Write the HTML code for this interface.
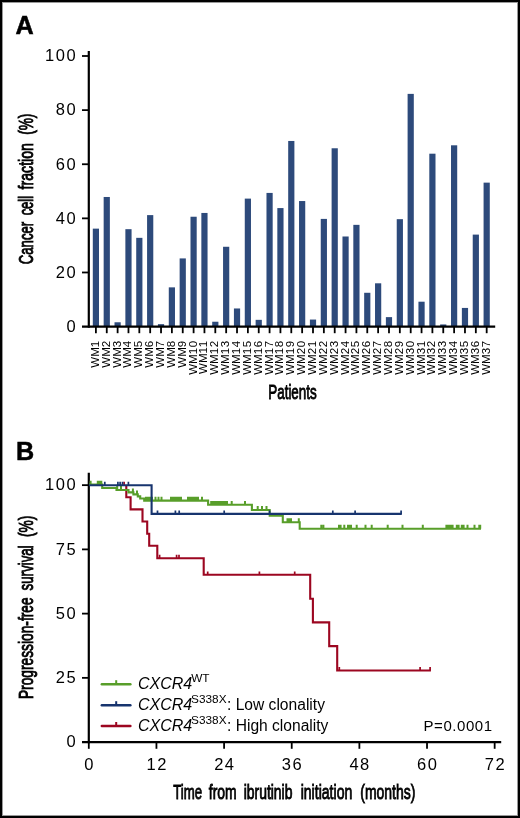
<!DOCTYPE html><html><head><meta charset="utf-8"><style>
html,body{margin:0;padding:0;background:#fff;}
body{width:520px;height:818px;overflow:hidden;position:relative;}
.frame{position:absolute;left:0;top:0;width:516px;height:814px;border:2px solid #000;box-shadow:inset 0 0 0 1px rgba(0,0,0,0.4);}
svg{position:absolute;left:0;top:0;will-change:transform;}
text{font-family:"Liberation Sans",sans-serif;fill:#000;}
</style></head><body><div class="frame"></div>
<svg width="520" height="818" viewBox="0 0 520 818">
<text x="15.6" y="33.5" font-size="25.2" font-weight="bold" stroke="#000" stroke-width="0.5">A</text>
<text x="15.9" y="459.7" font-size="25.2" font-weight="bold" stroke="#000" stroke-width="0.5">B</text>
<rect x="92.80" y="228.64" width="6.2" height="97.96" fill="#2d4a7b"/>
<rect x="103.66" y="196.98" width="6.2" height="129.62" fill="#2d4a7b"/>
<rect x="114.51" y="322.27" width="6.2" height="4.33" fill="#2d4a7b"/>
<rect x="125.37" y="229.18" width="6.2" height="97.42" fill="#2d4a7b"/>
<rect x="136.22" y="237.84" width="6.2" height="88.76" fill="#2d4a7b"/>
<rect x="147.08" y="215.11" width="6.2" height="111.49" fill="#2d4a7b"/>
<rect x="157.93" y="324.16" width="6.2" height="2.44" fill="#2d4a7b"/>
<rect x="168.78" y="287.36" width="6.2" height="39.24" fill="#2d4a7b"/>
<rect x="179.64" y="258.41" width="6.2" height="68.19" fill="#2d4a7b"/>
<rect x="190.50" y="216.74" width="6.2" height="109.86" fill="#2d4a7b"/>
<rect x="201.35" y="212.95" width="6.2" height="113.65" fill="#2d4a7b"/>
<rect x="212.21" y="321.73" width="6.2" height="4.87" fill="#2d4a7b"/>
<rect x="223.06" y="246.77" width="6.2" height="79.83" fill="#2d4a7b"/>
<rect x="233.92" y="308.47" width="6.2" height="18.13" fill="#2d4a7b"/>
<rect x="244.77" y="198.61" width="6.2" height="127.99" fill="#2d4a7b"/>
<rect x="255.63" y="319.84" width="6.2" height="6.76" fill="#2d4a7b"/>
<rect x="266.48" y="192.92" width="6.2" height="133.68" fill="#2d4a7b"/>
<rect x="277.33" y="208.08" width="6.2" height="118.52" fill="#2d4a7b"/>
<rect x="288.19" y="140.97" width="6.2" height="185.63" fill="#2d4a7b"/>
<rect x="299.04" y="201.04" width="6.2" height="125.56" fill="#2d4a7b"/>
<rect x="309.90" y="319.56" width="6.2" height="7.04" fill="#2d4a7b"/>
<rect x="320.75" y="218.90" width="6.2" height="107.70" fill="#2d4a7b"/>
<rect x="331.61" y="148.27" width="6.2" height="178.33" fill="#2d4a7b"/>
<rect x="342.47" y="236.49" width="6.2" height="90.11" fill="#2d4a7b"/>
<rect x="353.32" y="224.85" width="6.2" height="101.75" fill="#2d4a7b"/>
<rect x="364.17" y="292.78" width="6.2" height="33.82" fill="#2d4a7b"/>
<rect x="375.03" y="283.30" width="6.2" height="43.30" fill="#2d4a7b"/>
<rect x="385.88" y="317.13" width="6.2" height="9.47" fill="#2d4a7b"/>
<rect x="396.74" y="219.17" width="6.2" height="107.43" fill="#2d4a7b"/>
<rect x="407.60" y="93.88" width="6.2" height="232.72" fill="#2d4a7b"/>
<rect x="418.45" y="301.70" width="6.2" height="24.90" fill="#2d4a7b"/>
<rect x="429.30" y="153.69" width="6.2" height="172.91" fill="#2d4a7b"/>
<rect x="440.16" y="324.44" width="6.2" height="2.16" fill="#2d4a7b"/>
<rect x="451.01" y="145.30" width="6.2" height="181.30" fill="#2d4a7b"/>
<rect x="461.87" y="307.93" width="6.2" height="18.67" fill="#2d4a7b"/>
<rect x="472.73" y="234.60" width="6.2" height="92.00" fill="#2d4a7b"/>
<rect x="483.58" y="182.64" width="6.2" height="143.96" fill="#2d4a7b"/>
<g stroke="#000" stroke-width="2.2" fill="none">
<line x1="88.8" y1="50.9" x2="88.8" y2="327.70000000000005"/>
<line x1="82" y1="326.6" x2="495.2" y2="326.6"/>
</g>
<g stroke="#000" stroke-width="1.8" fill="none">
<line x1="82" y1="272.48" x2="88.8" y2="272.48"/>
<line x1="82" y1="218.36" x2="88.8" y2="218.36"/>
<line x1="82" y1="164.24" x2="88.8" y2="164.24"/>
<line x1="82" y1="110.12" x2="88.8" y2="110.12"/>
<line x1="82" y1="56.00" x2="88.8" y2="56.00"/>
<line x1="95.90" y1="326.6" x2="95.90" y2="333.2"/>
<line x1="106.76" y1="326.6" x2="106.76" y2="333.2"/>
<line x1="117.61" y1="326.6" x2="117.61" y2="333.2"/>
<line x1="128.47" y1="326.6" x2="128.47" y2="333.2"/>
<line x1="139.32" y1="326.6" x2="139.32" y2="333.2"/>
<line x1="150.18" y1="326.6" x2="150.18" y2="333.2"/>
<line x1="161.03" y1="326.6" x2="161.03" y2="333.2"/>
<line x1="171.88" y1="326.6" x2="171.88" y2="333.2"/>
<line x1="182.74" y1="326.6" x2="182.74" y2="333.2"/>
<line x1="193.60" y1="326.6" x2="193.60" y2="333.2"/>
<line x1="204.45" y1="326.6" x2="204.45" y2="333.2"/>
<line x1="215.31" y1="326.6" x2="215.31" y2="333.2"/>
<line x1="226.16" y1="326.6" x2="226.16" y2="333.2"/>
<line x1="237.02" y1="326.6" x2="237.02" y2="333.2"/>
<line x1="247.87" y1="326.6" x2="247.87" y2="333.2"/>
<line x1="258.73" y1="326.6" x2="258.73" y2="333.2"/>
<line x1="269.58" y1="326.6" x2="269.58" y2="333.2"/>
<line x1="280.44" y1="326.6" x2="280.44" y2="333.2"/>
<line x1="291.29" y1="326.6" x2="291.29" y2="333.2"/>
<line x1="302.14" y1="326.6" x2="302.14" y2="333.2"/>
<line x1="313.00" y1="326.6" x2="313.00" y2="333.2"/>
<line x1="323.86" y1="326.6" x2="323.86" y2="333.2"/>
<line x1="334.71" y1="326.6" x2="334.71" y2="333.2"/>
<line x1="345.57" y1="326.6" x2="345.57" y2="333.2"/>
<line x1="356.42" y1="326.6" x2="356.42" y2="333.2"/>
<line x1="367.27" y1="326.6" x2="367.27" y2="333.2"/>
<line x1="378.13" y1="326.6" x2="378.13" y2="333.2"/>
<line x1="388.99" y1="326.6" x2="388.99" y2="333.2"/>
<line x1="399.84" y1="326.6" x2="399.84" y2="333.2"/>
<line x1="410.70" y1="326.6" x2="410.70" y2="333.2"/>
<line x1="421.55" y1="326.6" x2="421.55" y2="333.2"/>
<line x1="432.40" y1="326.6" x2="432.40" y2="333.2"/>
<line x1="443.26" y1="326.6" x2="443.26" y2="333.2"/>
<line x1="454.12" y1="326.6" x2="454.12" y2="333.2"/>
<line x1="464.97" y1="326.6" x2="464.97" y2="333.2"/>
<line x1="475.83" y1="326.6" x2="475.83" y2="333.2"/>
<line x1="486.68" y1="326.6" x2="486.68" y2="333.2"/>
</g>
<text x="77.10" y="331.90" font-size="16.5" text-anchor="end" letter-spacing="1.5">0</text>
<text x="77.10" y="277.78" font-size="16.5" text-anchor="end" letter-spacing="1.5">20</text>
<text x="77.10" y="223.66" font-size="16.5" text-anchor="end" letter-spacing="1.5">40</text>
<text x="77.10" y="169.54" font-size="16.5" text-anchor="end" letter-spacing="1.5">60</text>
<text x="77.10" y="115.42" font-size="16.5" text-anchor="end" letter-spacing="1.5">80</text>
<text x="77.10" y="61.30" font-size="16.5" text-anchor="end" letter-spacing="1.5">100</text>
<text transform="translate(98.90,340.10) rotate(-90)" font-size="11.5" text-anchor="end">WM<tspan letter-spacing="0.7">1</tspan></text>
<text transform="translate(109.76,340.10) rotate(-90)" font-size="11.5" text-anchor="end">WM<tspan letter-spacing="0.7">2</tspan></text>
<text transform="translate(120.61,340.10) rotate(-90)" font-size="11.5" text-anchor="end">WM<tspan letter-spacing="0.7">3</tspan></text>
<text transform="translate(131.47,340.10) rotate(-90)" font-size="11.5" text-anchor="end">WM<tspan letter-spacing="0.7">4</tspan></text>
<text transform="translate(142.32,340.10) rotate(-90)" font-size="11.5" text-anchor="end">WM<tspan letter-spacing="0.7">5</tspan></text>
<text transform="translate(153.18,340.10) rotate(-90)" font-size="11.5" text-anchor="end">WM<tspan letter-spacing="0.7">6</tspan></text>
<text transform="translate(164.03,340.10) rotate(-90)" font-size="11.5" text-anchor="end">WM<tspan letter-spacing="0.7">7</tspan></text>
<text transform="translate(174.88,340.10) rotate(-90)" font-size="11.5" text-anchor="end">WM<tspan letter-spacing="0.7">8</tspan></text>
<text transform="translate(185.74,340.10) rotate(-90)" font-size="11.5" text-anchor="end">WM<tspan letter-spacing="0.7">9</tspan></text>
<text transform="translate(196.60,340.10) rotate(-90)" font-size="11.5" text-anchor="end">WM<tspan letter-spacing="0.7">10</tspan></text>
<text transform="translate(207.45,340.10) rotate(-90)" font-size="11.5" text-anchor="end">WM<tspan letter-spacing="0.7">11</tspan></text>
<text transform="translate(218.31,340.10) rotate(-90)" font-size="11.5" text-anchor="end">WM<tspan letter-spacing="0.7">12</tspan></text>
<text transform="translate(229.16,340.10) rotate(-90)" font-size="11.5" text-anchor="end">WM<tspan letter-spacing="0.7">13</tspan></text>
<text transform="translate(240.02,340.10) rotate(-90)" font-size="11.5" text-anchor="end">WM<tspan letter-spacing="0.7">14</tspan></text>
<text transform="translate(250.87,340.10) rotate(-90)" font-size="11.5" text-anchor="end">WM<tspan letter-spacing="0.7">15</tspan></text>
<text transform="translate(261.73,340.10) rotate(-90)" font-size="11.5" text-anchor="end">WM<tspan letter-spacing="0.7">16</tspan></text>
<text transform="translate(272.58,340.10) rotate(-90)" font-size="11.5" text-anchor="end">WM<tspan letter-spacing="0.7">17</tspan></text>
<text transform="translate(283.44,340.10) rotate(-90)" font-size="11.5" text-anchor="end">WM<tspan letter-spacing="0.7">18</tspan></text>
<text transform="translate(294.29,340.10) rotate(-90)" font-size="11.5" text-anchor="end">WM<tspan letter-spacing="0.7">19</tspan></text>
<text transform="translate(305.14,340.10) rotate(-90)" font-size="11.5" text-anchor="end">WM<tspan letter-spacing="0.7">20</tspan></text>
<text transform="translate(316.00,340.10) rotate(-90)" font-size="11.5" text-anchor="end">WM<tspan letter-spacing="0.7">21</tspan></text>
<text transform="translate(326.86,340.10) rotate(-90)" font-size="11.5" text-anchor="end">WM<tspan letter-spacing="0.7">22</tspan></text>
<text transform="translate(337.71,340.10) rotate(-90)" font-size="11.5" text-anchor="end">WM<tspan letter-spacing="0.7">23</tspan></text>
<text transform="translate(348.57,340.10) rotate(-90)" font-size="11.5" text-anchor="end">WM<tspan letter-spacing="0.7">24</tspan></text>
<text transform="translate(359.42,340.10) rotate(-90)" font-size="11.5" text-anchor="end">WM<tspan letter-spacing="0.7">25</tspan></text>
<text transform="translate(370.27,340.10) rotate(-90)" font-size="11.5" text-anchor="end">WM<tspan letter-spacing="0.7">26</tspan></text>
<text transform="translate(381.13,340.10) rotate(-90)" font-size="11.5" text-anchor="end">WM<tspan letter-spacing="0.7">27</tspan></text>
<text transform="translate(391.99,340.10) rotate(-90)" font-size="11.5" text-anchor="end">WM<tspan letter-spacing="0.7">28</tspan></text>
<text transform="translate(402.84,340.10) rotate(-90)" font-size="11.5" text-anchor="end">WM<tspan letter-spacing="0.7">29</tspan></text>
<text transform="translate(413.70,340.10) rotate(-90)" font-size="11.5" text-anchor="end">WM<tspan letter-spacing="0.7">30</tspan></text>
<text transform="translate(424.55,340.10) rotate(-90)" font-size="11.5" text-anchor="end">WM<tspan letter-spacing="0.7">31</tspan></text>
<text transform="translate(435.40,340.10) rotate(-90)" font-size="11.5" text-anchor="end">WM<tspan letter-spacing="0.7">32</tspan></text>
<text transform="translate(446.26,340.10) rotate(-90)" font-size="11.5" text-anchor="end">WM<tspan letter-spacing="0.7">33</tspan></text>
<text transform="translate(457.12,340.10) rotate(-90)" font-size="11.5" text-anchor="end">WM<tspan letter-spacing="0.7">34</tspan></text>
<text transform="translate(467.97,340.10) rotate(-90)" font-size="11.5" text-anchor="end">WM<tspan letter-spacing="0.7">35</tspan></text>
<text transform="translate(478.83,340.10) rotate(-90)" font-size="11.5" text-anchor="end">WM<tspan letter-spacing="0.7">36</tspan></text>
<text transform="translate(489.68,340.10) rotate(-90)" font-size="11.5" text-anchor="end">WM<tspan letter-spacing="0.7">37</tspan></text>
<text x="268.25" y="399.0" font-size="21" textLength="48.49" lengthAdjust="spacingAndGlyphs" stroke="#000" stroke-width="0.9">Patients</text>
<text transform="translate(33.3,264.35) rotate(-90)" font-size="21" textLength="42.60" lengthAdjust="spacingAndGlyphs" stroke="#000" stroke-width="0.9">Cancer</text>
<text transform="translate(33.3,215.35) rotate(-90)" font-size="21" textLength="19.41" lengthAdjust="spacingAndGlyphs" stroke="#000" stroke-width="0.9">cell</text>
<text transform="translate(33.3,189.55) rotate(-90)" font-size="21" textLength="46.58" lengthAdjust="spacingAndGlyphs" stroke="#000" stroke-width="0.9">fraction</text>
<text transform="translate(33.3,134.85) rotate(-90)" font-size="21" textLength="21.27" lengthAdjust="spacingAndGlyphs" stroke="#000" stroke-width="0.9">(%)</text>
<g stroke="#000" stroke-width="2.2" fill="none">
<line x1="88.8" y1="472.8" x2="88.8" y2="743.2"/>
<line x1="82" y1="742.1" x2="501.2" y2="742.1"/>
</g>
<g stroke="#000" stroke-width="1.8" fill="none">
<line x1="82" y1="677.86" x2="88.8" y2="677.86"/>
<line x1="82" y1="613.62" x2="88.8" y2="613.62"/>
<line x1="82" y1="549.39" x2="88.8" y2="549.39"/>
<line x1="82" y1="485.15" x2="88.8" y2="485.15"/>
<line x1="88.80" y1="742.1" x2="88.80" y2="748.8"/>
<line x1="156.44" y1="742.1" x2="156.44" y2="748.8"/>
<line x1="224.09" y1="742.1" x2="224.09" y2="748.8"/>
<line x1="291.73" y1="742.1" x2="291.73" y2="748.8"/>
<line x1="359.38" y1="742.1" x2="359.38" y2="748.8"/>
<line x1="427.02" y1="742.1" x2="427.02" y2="748.8"/>
<line x1="494.66" y1="742.1" x2="494.66" y2="748.8"/>
</g>
<text x="77.10" y="747.30" font-size="16.5" text-anchor="end" letter-spacing="1.5">0</text>
<text x="77.10" y="683.06" font-size="16.5" text-anchor="end" letter-spacing="1.5">25</text>
<text x="77.10" y="618.83" font-size="16.5" text-anchor="end" letter-spacing="1.5">50</text>
<text x="77.10" y="554.59" font-size="16.5" text-anchor="end" letter-spacing="1.5">75</text>
<text x="77.10" y="490.35" font-size="16.5" text-anchor="end" letter-spacing="1.5">100</text>
<text x="89.55" y="770.2" font-size="16.5" text-anchor="middle" letter-spacing="1.5">0</text>
<text x="157.19" y="770.2" font-size="16.5" text-anchor="middle" letter-spacing="1.5">12</text>
<text x="224.84" y="770.2" font-size="16.5" text-anchor="middle" letter-spacing="1.5">24</text>
<text x="292.48" y="770.2" font-size="16.5" text-anchor="middle" letter-spacing="1.5">36</text>
<text x="360.13" y="770.2" font-size="16.5" text-anchor="middle" letter-spacing="1.5">48</text>
<text x="427.77" y="770.2" font-size="16.5" text-anchor="middle" letter-spacing="1.5">60</text>
<text x="495.41" y="770.2" font-size="16.5" text-anchor="middle" letter-spacing="1.5">72</text>
<text x="173.15" y="798.9" font-size="21" textLength="28.89" lengthAdjust="spacingAndGlyphs" stroke="#000" stroke-width="0.9">Time</text>
<text x="208.75" y="798.9" font-size="21" textLength="27.90" lengthAdjust="spacingAndGlyphs" stroke="#000" stroke-width="0.9">from</text>
<text x="243.65" y="798.9" font-size="21" textLength="48.83" lengthAdjust="spacingAndGlyphs" stroke="#000" stroke-width="0.9">ibrutinib</text>
<text x="300.65" y="798.9" font-size="21" textLength="51.67" lengthAdjust="spacingAndGlyphs" stroke="#000" stroke-width="0.9">initiation</text>
<text x="360.25" y="798.9" font-size="21" textLength="55.07" lengthAdjust="spacingAndGlyphs" stroke="#000" stroke-width="0.9">(months)</text>
<text transform="translate(33.2,699.05) rotate(-90)" font-size="21" textLength="101.63" lengthAdjust="spacingAndGlyphs" stroke="#000" stroke-width="0.9">Progression-free</text>
<text transform="translate(33.2,590.45) rotate(-90)" font-size="21" textLength="45.09" lengthAdjust="spacingAndGlyphs" stroke="#000" stroke-width="0.9">survival</text>
<text transform="translate(33.2,537.05) rotate(-90)" font-size="21" textLength="21.37" lengthAdjust="spacingAndGlyphs" stroke="#000" stroke-width="0.9">(%)</text>
<path d="M126.3 485.2H126.3V497.3H130.6V509.4H142.5V521.5H147.2V533.7H149.2V545.8H157.3V558.2H203.7V574.8H310.2V598.7H312.9V622.4H329.2V646.1H337.2V670.5H430.9" stroke="#9c0620" stroke-width="2.1" fill="none" stroke-linejoin="miter" stroke-linecap="butt"/>
<path d="M159.6 558.2v-3.4 M176.6 558.2v-3.4 M179.0 558.2v-3.4 M207.7 574.8v-3.4 M259.4 574.8v-3.4 M294.7 574.8v-3.4 M339.3 670.5v-3.4 M420.1 670.5v-3.4 M430.1 670.5v-3.4" stroke="#9c0620" stroke-width="1.7" fill="none"/>
<path d="M124.1 485.2v-3.4" stroke="#9c0620" stroke-width="1.7"/>
<path d="M89.0 484.6H102.2V488.0H116.5V490.0H128.5V492.4H133.4V494.4H137.8V496.4H140.2V498.5H144.2V500.6H208.1V504.8H251.9V510.0H269.7V515.7H282.8V522.2H299.7V528.7H481.0" stroke="#589e2a" stroke-width="2.1" fill="none" stroke-linejoin="miter" stroke-linecap="butt"/>
<path d="M90.6 484.6v-3.9 M97.8 484.6v-3.9 M99.6 484.6v-3.9 M101.3 484.6v-3.9 M117.2 490.0v-3.9 M121.0 490.0v-3.9 M132.9 492.4v-3.9 M137.0 494.4v-3.9 M146.0 500.6v-3.9 M148.0 500.6v-3.9 M150.0 500.6v-3.9 M152.0 500.6v-3.9 M155.5 500.6v-3.9 M158.5 500.6v-3.9 M161.5 500.6v-3.9 M171.0 500.6v-3.9 M173.0 500.6v-3.9 M175.0 500.6v-3.9 M177.0 500.6v-3.9 M179.0 500.6v-3.9 M181.0 500.6v-3.9 M188.0 500.6v-3.9 M190.0 500.6v-3.9 M192.0 500.6v-3.9 M194.0 500.6v-3.9 M196.0 500.6v-3.9 M198.0 500.6v-3.9 M202.0 500.6v-3.9 M211.2 504.8v-3.9 M212.8 504.8v-3.9 M214.4 504.8v-3.9 M216.0 504.8v-3.9 M217.6 504.8v-3.9 M219.2 504.8v-3.9 M220.8 504.8v-3.9 M222.4 504.8v-3.9 M224.0 504.8v-3.9 M225.6 504.8v-3.9 M227.0 504.8v-3.9 M231.7 504.8v-3.9 M245.0 504.8v-3.9 M257.7 510.0v-3.9 M262.0 510.0v-3.9 M266.5 510.0v-3.9 M287.5 522.2v-3.9 M289.2 522.2v-3.9 M291.0 522.2v-3.9 M298.8 522.2v-3.9 M321.3 528.7v-3.9 M323.4 528.7v-3.9 M339.0 528.7v-3.9 M340.6 528.7v-3.9 M344.3 528.7v-3.9 M348.0 528.7v-3.9 M349.6 528.7v-3.9 M351.0 528.7v-3.9 M356.7 528.7v-3.9 M365.5 528.7v-3.9 M371.7 528.7v-3.9 M387.7 528.7v-3.9 M402.5 528.7v-3.9 M422.8 528.7v-3.9 M446.4 528.7v-3.9 M448.0 528.7v-3.9 M449.6 528.7v-3.9 M451.2 528.7v-3.9 M452.6 528.7v-3.9 M456.8 528.7v-3.9 M458.6 528.7v-3.9 M461.8 528.7v-3.9 M463.6 528.7v-3.9 M467.5 528.7v-3.9 M474.5 528.7v-3.9 M479.3 528.7v-3.9 M480.2 528.7v-3.9" stroke="#589e2a" stroke-width="2.0" fill="none"/>
<path d="M89.0 485.2H151.6V513.9H401.8" stroke="#17346e" stroke-width="2.1" fill="none" stroke-linejoin="miter" stroke-linecap="butt"/>
<path d="M104.8 485.2v-3.4 M117.9 485.2v-3.4 M120.1 485.2v-3.4 M122.5 485.2v-3.4 M128.4 485.2v-3.4 M157.5 513.9v-3.4 M175.4 513.9v-3.4 M179.2 513.9v-3.4 M224.2 513.9v-3.4 M269.6 513.9v-3.4 M332.8 513.9v-3.4 M355.1 513.9v-3.4 M401.1 513.9v-3.4" stroke="#17346e" stroke-width="1.7" fill="none"/>
<line x1="101.8" y1="684.2" x2="130.4" y2="684.2" stroke="#589e2a" stroke-width="2.4" stroke-linecap="round"/>
<line x1="116.2" y1="684.2" x2="116.2" y2="680.2" stroke="#589e2a" stroke-width="2.0"/>
<line x1="101.8" y1="705.2" x2="130.4" y2="705.2" stroke="#17346e" stroke-width="2.4" stroke-linecap="round"/>
<line x1="116.2" y1="705.2" x2="116.2" y2="701.2" stroke="#17346e" stroke-width="2.0"/>
<line x1="101.8" y1="726.0" x2="130.4" y2="726.0" stroke="#9c0620" stroke-width="2.4" stroke-linecap="round"/>
<line x1="116.2" y1="726.0" x2="116.2" y2="722.0" stroke="#9c0620" stroke-width="2.0"/>
<text x="138" y="689" font-size="16" font-style="italic">CXCR4</text>
<text x="191.2" y="682.4" font-size="11.8">WT</text>
<text x="138" y="710" font-size="16" font-style="italic">CXCR4</text>
<text x="191.1" y="703.0" font-size="11.8">S338X</text>
<text x="227" y="710.2" font-size="15.6">: Low clonality</text>
<text x="138" y="730.6" font-size="16" font-style="italic">CXCR4</text>
<text x="191.1" y="723.6" font-size="11.8">S338X</text>
<text x="227" y="730.9" font-size="15.6">: High clonality</text>
<text x="492.6" y="730.9" font-size="15" letter-spacing="0.55" text-anchor="end">P=0.0001</text>
</svg></body></html>
